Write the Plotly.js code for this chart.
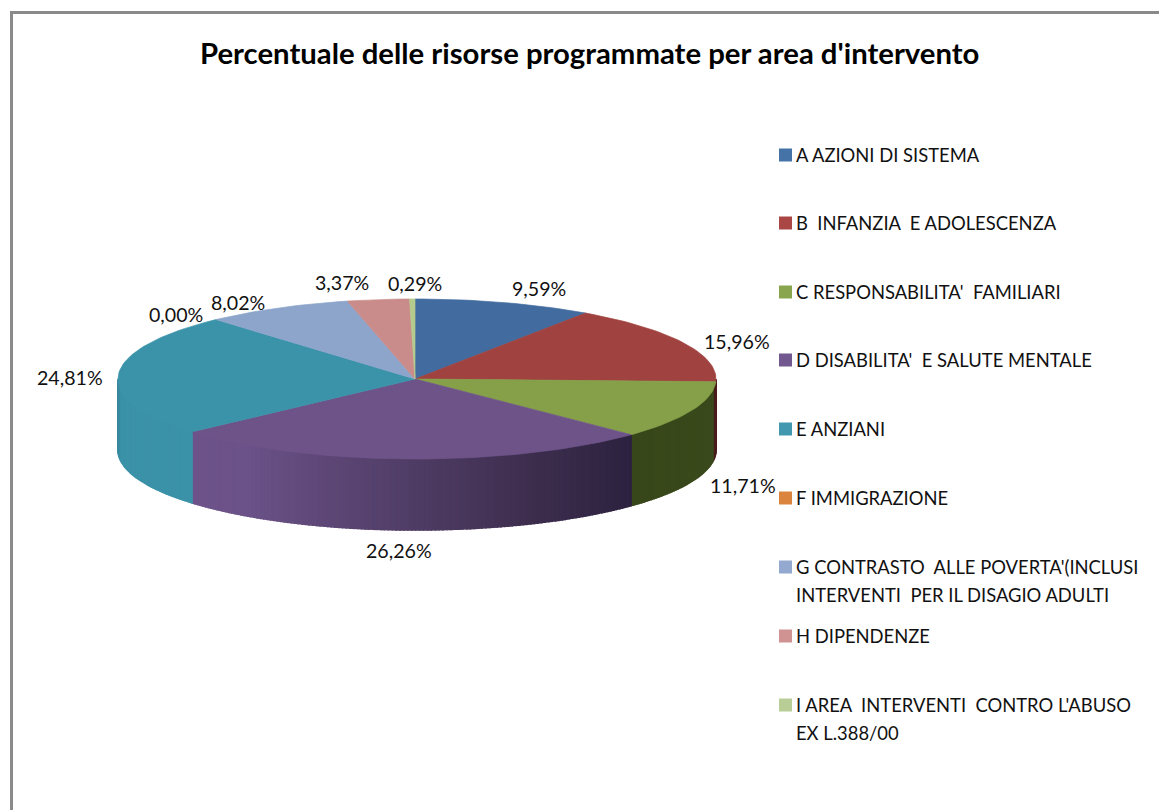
<!DOCTYPE html>
<html>
<head>
<meta charset="utf-8">
<script src="https://cdn.plot.ly/plotly-3.0.1.min.js"></script>
<style>html,body{margin:0;padding:0;background:#fff}#chart{width:1159px;height:810px}</style>
</head>
<body>
<div id="chart"></div>
<script>
// ---- data ----
var chartTitle = "Percentuale delle risorse programmate per area d'intervento";
var categories = ["A AZIONI DI SISTEMA", "B  INFANZIA  E ADOLESCENZA", "C RESPONSABILITA'  FAMILIARI",
  "D DISABILITA'  E SALUTE MENTALE", "E ANZIANI", "F IMMIGRAZIONE",
  "G CONTRASTO  ALLE POVERTA'(INCLUSI<br>INTERVENTI  PER IL DISAGIO ADULTI", "H DIPENDENZE",
  "I AREA  INTERVENTI  CONTRO L'ABUSO<br>EX L.388/00"];
var values = [9.59, 15.96, 11.71, 26.26, 24.81, 0.00, 8.02, 3.37, 0.29];

// ---- styles ----
var legendColors = ["#4572A7", "#AA4643", "#89A54E", "#71588F", "#4198AF", "#DB843D", "#93A9CF", "#D19392", "#B9CD96"];
var topColors = ["#426c9f", "#a04340", "#85a049", "#6e5389", "#3b93a9", "#DB843D", "#8da5cb", "#c98c8a", "#b5cb8e"];
var wallStops = {
  1: [[0, [74, 28, 26]], [1, [74, 28, 26]]],
  2: [[0, [58, 74, 28]], [1, [56, 71, 26]]],
  3: [[0, [44, 34, 64]], [0.25, [62, 46, 78]], [0.55, [84, 64, 107]], [0.85, [107, 82, 136]], [1, [109, 83, 137]]],
  4: [[0, [59, 146, 168]], [0.8, [59, 146, 168]], [1, [56, 136, 158]]]
};
var labelShift = [[35, -14], [53, -1], [51, 75], [-9, 92], [-48, 3], [-40, -5], [-39, -6], [-36, -17], [3, -16]];
var W = 1159, H = 810, cx = 415, cy = 379, rx = 299, ry = 80, depth = 71;
var rimRight = 301 / 299, rimLeft = 297 / 299;
var font = "Lato, Carlito, sans-serif";
var legendX = 779, legendTextX = 794, swatch = 13;
var legendY = [155, 223, 292, 360, 429, 498, 567, 636, 705];

// ---- geometry from values ----
function rad(p) { return p / 100 * 2 * Math.PI; }
function X(t) { var s = Math.sin(t); return s * (s > 0 ? rimRight : rimLeft); }
function Y(t) { return Math.cos(t); }
var dU = depth / ry;
var traces = [];
function poly(xs, ys, color, lw) {
  traces.push({type: 'scatter', mode: 'lines', x: xs, y: ys, fill: 'toself', fillcolor: color,
    line: {color: color, width: lw}, hoverinfo: 'skip', showlegend: false});
}
function colorAt(stops, f) {
  for (var i = 1; i < stops.length; i++) {
    if (f <= stops[i][0]) {
      var a = stops[i - 1], b = stops[i], k = (f - a[0]) / (b[0] - a[0]);
      return 'rgb(' + [0, 1, 2].map(function (j) { return Math.round(a[1][j] + (b[1][j] - a[1][j]) * k); }).join(',') + ')';
    }
  }
  return 'rgb(' + stops[stops.length - 1][1].join(',') + ')';
}
var total = values.reduce(function (a, b) { return a + b; }, 0);
var starts = [], c = 0;
values.forEach(function (v) { starts.push(c); c += v / total * 100; });
starts.push(100);

// walls (front half only), drawn as narrow slats so they can shade
var sliverExtra = 1.7; // red rim shows slightly past its slice end, as in the source
for (var i = 0; i < values.length; i++) {
  if (!wallStops[i] || values[i] === 0) continue;
  var a0 = Math.max(rad(starts[i]), Math.PI / 2), a1 = Math.min(rad(starts[i + 1]), 1.5 * Math.PI);
  if (i === 1) a1 += rad(sliverExtra);
  if (i === 2) a0 += rad(sliverExtra);
  if (a1 <= a0) continue;
  var n = Math.max(2, Math.round((a1 - a0) / (Math.PI / 240)));
  for (var k = 0; k < n; k++) {
    var t0 = a0 + (a1 - a0) * k / n, t1 = a0 + (a1 - a0) * (k + 1) / n;
    var f = ((t0 + t1) / 2 - a0) / (a1 - a0);
    var xs = [X(t0), X(t1), X(t1), X(t0), X(t0)];
    var ys = [Y(t0), Y(t1), Y(t1) - dU, Y(t0) - dU, Y(t0)];
    poly(xs, ys, colorAt(wallStops[i], f), 1.6);
  }
}
// top faces
for (var i = 0; i < values.length; i++) {
  if (values[i] === 0) continue;
  var a0 = rad(starts[i]), a1 = rad(starts[i + 1]);
  var xs = [0], ys = [0], n = Math.max(3, Math.round((a1 - a0) / (Math.PI / 120)));
  for (var k = 0; k <= n; k++) {
    var t = a0 + (a1 - a0) * k / n;
    xs.push(X(t)); ys.push(Y(t));
  }
  xs.push(0); ys.push(0);
  poly(xs, ys, topColors[i], 0.7);
}

// data labels
var annotations = values.map(function (v, i) {
  var tm = rad((starts[i] + starts[i + 1]) / 2);
  return {x: X(tm), y: Y(tm), xref: 'x', yref: 'y', showarrow: false,
    text: v.toFixed(2).replace('.', ',') + '%', xanchor: 'center', yanchor: 'middle',
    xshift: labelShift[i][0], yshift: -labelShift[i][1],
    font: {family: font, size: 19.6, color: '#111'}};
});

// legend
var shapes = [];
categories.forEach(function (name, i) {
  shapes.push({type: 'rect', xref: 'paper', yref: 'paper',
    x0: legendX / W, x1: (legendX + swatch) / W,
    y0: 1 - (legendY[i] + swatch / 2) / H, y1: 1 - (legendY[i] - swatch / 2) / H,
    fillcolor: legendColors[i], line: {width: 0}});
  name.split('<br>').forEach(function (line, j) {
    annotations.push({xref: 'paper', yref: 'paper', x: legendTextX / W, y: 1 - (legendY[i] + j * 28) / H,
      xanchor: 'left', yanchor: 'middle', showarrow: false, text: line,
      font: {family: font, size: 18.4, color: '#111'}});
  });
});

// chart frame (top and left edges visible)
shapes.push({type: 'line', xref: 'paper', yref: 'paper', x0: 11.5 / W, x1: 1, y0: 1 - 12.5 / H, y1: 1 - 12.5 / H, line: {color: '#8a8a8a', width: 3}});
shapes.push({type: 'line', xref: 'paper', yref: 'paper', x0: 11.5 / W, x1: 11.5 / W, y0: 0, y1: 1 - 11 / H, line: {color: '#8a8a8a', width: 3}});

annotations.push({xref: 'paper', yref: 'paper', x: 589 / W, y: 1 - 52 / H, xanchor: 'center', yanchor: 'middle',
  showarrow: false, text: '<b>' + chartTitle + '</b>', font: {family: font, size: 29.3, color: '#000'}});

var layout = {
  width: W, height: H, margin: {l: 0, r: 0, t: 0, b: 0},
  paper_bgcolor: '#fff', plot_bgcolor: '#fff', showlegend: false,
  xaxis: {visible: false, range: [-cx / rx, (W - cx) / rx], fixedrange: true},
  yaxis: {visible: false, range: [(cy - H) / ry, cy / ry], fixedrange: true},
  annotations: annotations, shapes: shapes
};
Plotly.newPlot('chart', traces, layout, {displayModeBar: false, staticPlot: true});
</script>
</body>
</html>
